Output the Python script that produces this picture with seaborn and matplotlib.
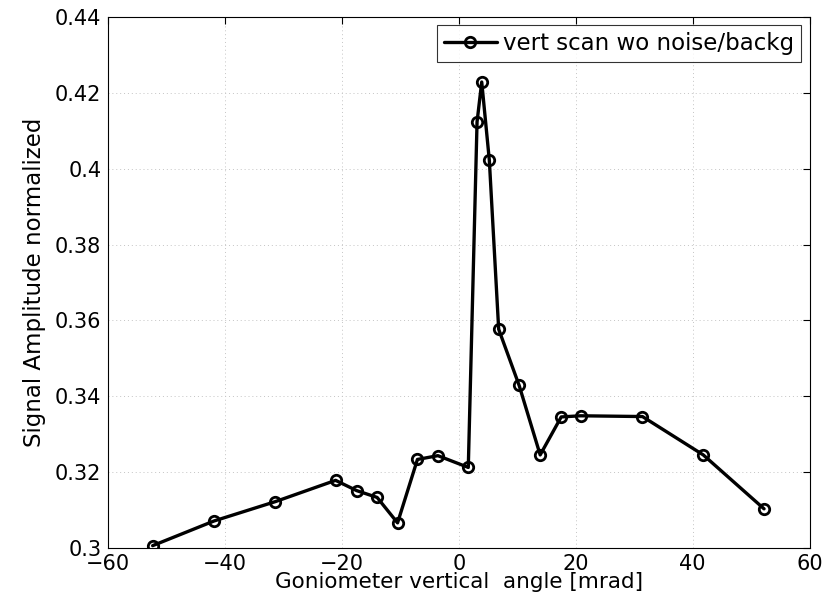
import matplotlib
matplotlib.use("Agg")
import matplotlib.pyplot as plt
import seaborn as sns
import pandas as pd

angle = [-52.4, -41.9, -31.4, -21.1, -17.5, -14.0, -10.5, -7.1, -3.6, 1.6,
         3.1, 3.9, 5.2, 6.8, 10.3, 13.9, 17.5, 20.8, 31.4, 41.8, 52.2]
amplitude = [0.3007, 0.3072, 0.3123, 0.3179, 0.3152, 0.3134, 0.3067, 0.3234, 0.3244, 0.3213,
             0.4123, 0.4228, 0.4022, 0.3577, 0.3429, 0.3246, 0.3346, 0.3349, 0.3347, 0.3246, 0.3104]
series_label = "vert scan wo noise/backg"
xticks = [-60, -40, -20, 0, 20, 40, 60]
yticks = [0.3, 0.32, 0.34, 0.36, 0.38, 0.4, 0.42, 0.44]

sns.set_style("white")
plt.rcParams['font.family'] = ['DejaVu Sans']
plt.rcParams['text.color'] = 'black'
plt.rcParams['axes.labelcolor'] = 'black'

df = pd.DataFrame({"angle": angle, "amp": amplitude})

fig = plt.figure(figsize=(8.39, 6.05), dpi=100)
ax = fig.add_axes([0.129, 0.0937, 0.836, 0.8787])

sns.lineplot(data=df, x="angle", y="amp", ax=ax, sort=False, color="black",
             linewidth=2.4, marker="o", markersize=7.5, markerfacecolor="none",
             markeredgecolor="black", markeredgewidth=2.0, label=series_label)

ax.set_xlim(-60, 60)
ax.set_ylim(0.3, 0.44)
ax.set_xticks(xticks)
ax.set_yticks(yticks)
ax.set_xticklabels([("\u2212" + str(-t)) if t < 0 else str(t) for t in xticks])
ax.set_yticklabels([f"{t:g}" for t in yticks])
ax.tick_params(direction="in", length=5, width=0.8, top=True, right=True,
               labelsize=15, colors="black", labelcolor="black", pad=4)
ax.tick_params(axis="y", pad=5)
ax.grid(True, linestyle=(0, (1, 3)), color="#c4c4c4", linewidth=0.7)
for s in ax.spines.values():
    s.set_color("black")
    s.set_linewidth(0.8)

ax.set_xlabel("Goniometer vertical  angle [mrad]", fontsize=15.5, labelpad=-1, color="black")
ax.set_ylabel("Signal Amplitude normalized", fontsize=16.5, labelpad=6, color="black")

leg = ax.legend(loc="upper right", fontsize=16.5, frameon=True, fancybox=False,
                handlelength=2.3, handletextpad=0.3, borderaxespad=0.36,
                borderpad=0.3)
leg.get_frame().set_edgecolor("black")
leg.get_frame().set_linewidth(0.8)
for t in leg.get_texts():
    t.set_color("black")

fig.savefig("out.png", dpi=100)
